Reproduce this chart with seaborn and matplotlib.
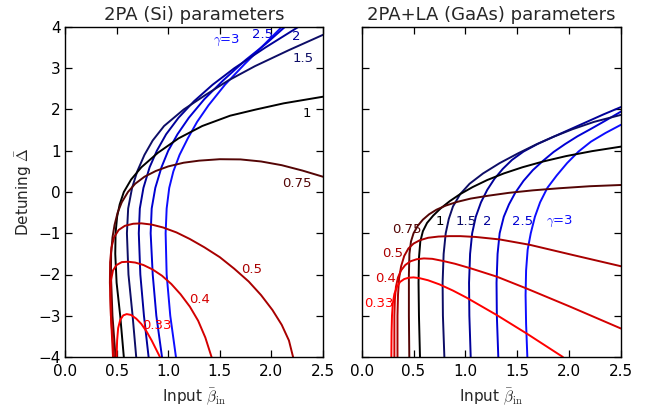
import matplotlib
matplotlib.use("Agg")
import matplotlib.pyplot as plt
import seaborn as sns

# ---------------- data: left panel, 2PA (Si) ----------------
si_g3_x = [1.075, 1.02, 0.985, 0.975, 0.985, 1.01, 1.05, 1.11, 1.19, 1.28, 1.39, 1.55, 1.74, 1.94, 2.10]
si_g3_y = [-4, -3, -2, -1, -0.4, 0.1, 0.5, 0.9, 1.3, 1.7, 2.1, 2.6, 3.1, 3.6, 4.0]
si_g25_x = [0.94, 0.885, 0.85, 0.83, 0.84, 0.875, 0.935, 1.0, 1.09, 1.20, 1.35, 1.53, 1.75, 1.95, 2.13]
si_g25_y = [-4, -3, -2, -1, -0.4, 0.1, 0.6, 1.0, 1.4, 1.8, 2.25, 2.7, 3.2, 3.6, 4.0]
si_g2_x = [0.81, 0.765, 0.73, 0.715, 0.725, 0.76, 0.82, 0.89, 0.98, 1.10, 1.25, 1.43, 1.64, 1.94, 2.26]
si_g2_y = [-4, -3, -2, -1, -0.4, 0.1, 0.6, 1.0, 1.4, 1.8, 2.2, 2.6, 3.0, 3.5, 4.0]
si_g15_x = [0.69, 0.655, 0.615, 0.60, 0.612, 0.65, 0.70, 0.77, 0.85, 0.96, 1.15, 1.36, 1.58, 1.84, 2.17, 2.50]
si_g15_y = [-4, -3, -2, -1, -0.4, 0.1, 0.5, 0.9, 1.25, 1.6, 2.0, 2.35, 2.7, 3.05, 3.44, 3.81]
si_g1_x = [0.57, 0.535, 0.50, 0.487, 0.49, 0.505, 0.53, 0.57, 0.64, 0.74, 0.90, 1.10, 1.33, 1.60, 1.85, 2.12, 2.50]
si_g1_y = [-4, -3, -2.2, -1.5, -1.0, -0.6, -0.3, 0.0, 0.3, 0.6, 0.95, 1.3, 1.6, 1.85, 2.0, 2.15, 2.31]
si_g075_x = [0.49, 0.46, 0.445, 0.447, 0.46, 0.48, 0.51, 0.55, 0.61, 0.68, 0.77, 0.88, 1.0, 1.15,
             1.3, 1.5, 1.7, 1.9, 2.1, 2.3, 2.5]
si_g075_y = [-4, -3, -2, -1.5, -1.1, -0.8, -0.5, -0.25, 0.0, 0.2, 0.37, 0.51, 0.62, 0.71,
             0.76, 0.795, 0.79, 0.74, 0.65, 0.52, 0.37]
si_g05_x = [0.475, 0.445, 0.435, 0.437, 0.45, 0.475, 0.52, 0.58, 0.66, 0.74, 0.84, 0.95, 1.08, 1.21,
            1.35, 1.50, 1.64, 1.78, 1.90, 2.01, 2.10, 2.17, 2.21]
si_g05_y = [-4, -3, -2.2, -1.7, -1.35, -1.1, -0.92, -0.82, -0.77, -0.76, -0.79, -0.86, -0.98, -1.14,
            -1.34, -1.58, -1.86, -2.17, -2.5, -2.86, -3.22, -3.6, -4.0]
si_g04_x = [0.465, 0.445, 0.44, 0.445, 0.465, 0.50, 0.55, 0.61, 0.68, 0.76, 0.85, 0.94, 1.03, 1.12,
            1.21, 1.29, 1.36, 1.42]
si_g04_y = [-4, -3, -2.5, -2.15, -1.9, -1.77, -1.70, -1.69, -1.71, -1.77, -1.88, -2.03, -2.23, -2.48,
            -2.78, -3.12, -3.53, -4.0]
si_g033_x = [0.50, 0.505, 0.515, 0.535, 0.565, 0.598, 0.64, 0.69, 0.74, 0.79, 0.84, 0.88, 0.92]
si_g033_y = [-4, -3.6, -3.3, -3.1, -2.99, -2.96, -2.98, -3.07, -3.2, -3.38, -3.6, -3.8, -4.0]

# ---------------- data: right panel, 2PA+LA (GaAs) ----------------
ga_g3_x = [1.597, 1.585, 1.58, 1.585, 1.60, 1.63, 1.67, 1.72, 1.79, 1.88, 1.98, 2.09, 2.21, 2.35, 2.50]
ga_g3_y = [-4, -3.2, -2.5, -1.9, -1.4, -1.0, -0.6, -0.25, 0.1, 0.4, 0.7, 0.98, 1.22, 1.43, 1.63]
ga_g25_x = [1.317, 1.303, 1.30, 1.31, 1.33, 1.37, 1.42, 1.48, 1.56, 1.65, 1.75, 1.85, 1.96, 2.08,
            2.21, 2.35, 2.50]
ga_g25_y = [-4, -3, -2.2, -1.5, -1.0, -0.6, -0.3, -0.02, 0.27, 0.53, 0.76, 0.97, 1.16, 1.35,
            1.53, 1.73, 1.95]
ga_g2_x = [1.051, 1.038, 1.035, 1.045, 1.065, 1.10, 1.15, 1.21, 1.28, 1.36, 1.45, 1.56, 1.70, 1.85,
           2.01, 2.17, 2.33, 2.50]
ga_g2_y = [-4, -3, -2.2, -1.5, -1.0, -0.6, -0.25, 0.05, 0.32, 0.56, 0.78, 0.98, 1.17, 1.34,
           1.52, 1.70, 1.88, 2.06]
ga_g15_x = [0.797, 0.783, 0.78, 0.79, 0.81, 0.84, 0.88, 0.95, 1.04, 1.17, 1.33, 1.51, 1.68, 1.85,
            2.03, 2.24, 2.50]
ga_g15_y = [-4, -3, -2.2, -1.5, -1.0, -0.65, -0.35, -0.05, 0.2, 0.45, 0.7, 0.94, 1.15, 1.34,
            1.52, 1.70, 1.87]
ga_g1_x = [0.562, 0.552, 0.548, 0.552, 0.565, 0.59, 0.63, 0.69, 0.76, 0.85, 0.95, 1.07, 1.21, 1.37,
           1.55, 1.75, 1.97, 2.22, 2.50]
ga_g1_y = [-4, -3, -2.2, -1.6, -1.2, -0.95, -0.75, -0.57, -0.4, -0.22, -0.05, 0.12, 0.29, 0.45,
           0.6, 0.74, 0.87, 0.99, 1.10]
ga_g075_x = [0.459, 0.455, 0.455, 0.46, 0.475, 0.50, 0.54, 0.59, 0.65, 0.72, 0.81, 0.92, 1.05, 1.22,
             1.42, 1.65, 1.90, 2.2, 2.5]
ga_g075_y = [-4, -3, -2, -1.5, -1.2, -1.0, -0.82, -0.67, -0.54, -0.43, -0.33, -0.24, -0.16, -0.09,
             -0.02, 0.04, 0.09, 0.14, 0.17]
ga_g05_x = [0.345, 0.345, 0.35, 0.36, 0.38, 0.41, 0.45, 0.50, 0.56, 0.64, 0.74, 0.85, 0.95, 1.10,
            1.33, 1.62, 2.04, 2.50]
ga_g05_y = [-4, -3, -2.5, -2.1, -1.8, -1.55, -1.37, -1.25, -1.17, -1.11, -1.08, -1.07, -1.07, -1.09,
            -1.15, -1.28, -1.53, -1.80]
ga_g04_x = [0.315, 0.315, 0.32, 0.33, 0.35, 0.38, 0.42, 0.47, 0.53, 0.60, 0.68, 0.78, 0.90, 1.05,
            1.30, 1.59, 2.01, 2.50]
ga_g04_y = [-4, -3, -2.6, -2.3, -2.07, -1.9, -1.77, -1.68, -1.63, -1.61, -1.62, -1.67, -1.74, -1.85,
            -2.05, -2.34, -2.78, -3.31]
ga_g033_x = [0.286, 0.288, 0.292, 0.30, 0.315, 0.34, 0.37, 0.41, 0.45, 0.50, 0.56, 0.64, 0.75, 0.88,
             1.01, 1.30, 1.59, 1.94]
ga_g033_y = [-4, -3.4, -3.0, -2.7, -2.47, -2.3, -2.18, -2.11, -2.08, -2.07, -2.09, -2.14, -2.24, -2.39,
             -2.56, -2.98, -3.43, -4.0]

# ---------------- labels ----------------
label_texts = [r"$\gamma$=3", "2.5", "2", "1.5", "1", "0.75", "0.5", "0.4", "0.33"]
si_label_x = [1.57, 1.91, 2.24, 2.31, 2.345, 2.245, 1.81, 1.305, 0.895]
si_label_y = [3.67, 3.81, 3.77, 3.24, 1.91, 0.21, -1.89, -2.60, -3.24]
ga_label_x = [1.91, 1.55, 1.21, 1.004, 0.755, 0.433, 0.297, 0.23, 0.169]
ga_label_y = [-0.72, -0.72, -0.72, -0.72, -0.72, -0.91, -1.50, -2.10, -2.71]

titles = ["2PA (Si) parameters", "2PA+LA (GaAs) parameters"]
x_ticks = [0.0, 0.5, 1.0, 1.5, 2.0, 2.5]
y_ticks = [-4, -3, -2, -1, 0, 1, 2, 3, 4]

# style: colours per gamma (red -> black -> blue)
colors = [(0.05, 0.05, 1.0), (0.0, 0.0, 0.83), (0.0, 0.0, 0.6), (0.05, 0.05, 0.4), (0, 0, 0),
          (0.33, 0.02, 0.02), (0.66, 0.0, 0.0), (0.83, 0.0, 0.0), (1.0, 0.0, 0.0)]

si_curves = [(si_g3_x, si_g3_y), (si_g25_x, si_g25_y), (si_g2_x, si_g2_y),
             (si_g15_x, si_g15_y), (si_g1_x, si_g1_y), (si_g075_x, si_g075_y),
             (si_g05_x, si_g05_y), (si_g04_x, si_g04_y), (si_g033_x, si_g033_y)]
ga_curves = [(ga_g3_x, ga_g3_y), (ga_g25_x, ga_g25_y), (ga_g2_x, ga_g2_y),
             (ga_g15_x, ga_g15_y), (ga_g1_x, ga_g1_y), (ga_g075_x, ga_g075_y),
             (ga_g05_x, ga_g05_y), (ga_g04_x, ga_g04_y), (ga_g033_x, ga_g033_y)]

sns.set_style("ticks")
plt.rcParams["font.family"] = ["DejaVu Sans"]
plt.rcParams["mathtext.fontset"] = "cm"
plt.rcParams["axes.unicode_minus"] = True

fig = plt.figure(figsize=(6.54, 4.09), dpi=100)
ax1 = fig.add_axes([65 / 654, 52 / 409, 258 / 654, 330 / 409])
ax2 = fig.add_axes([361.7 / 654, 52 / 409, 259.3 / 654, 330 / 409])

for ax, curves, lx, ly, title in [(ax1, si_curves, si_label_x, si_label_y, titles[0]),
                                  (ax2, ga_curves, ga_label_x, ga_label_y, titles[1])]:
    for (cx, cy), col in zip(curves, colors):
        sns.lineplot(x=cx, y=cy, sort=False, estimator=None, color=col,
                     linewidth=1.4, ax=ax, legend=False)
    for t, x, y, col in zip(label_texts, lx, ly, colors):
        ax.text(x, y, t, color=col, fontsize=9.5, ha="center", va="center")
    ax.set_xlim(0, 2.5)
    ax.set_ylim(-4, 4)
    ax.set_xticks(x_ticks)
    ax.set_xticklabels([f"{v:.1f}" for v in x_ticks])
    ax.set_yticks(y_ticks)
    ax.tick_params(direction="in", top=True, right=True, length=5, width=0.9,
                   labelsize=11, colors="black")
    ax.tick_params(axis="x", pad=5)
    ax.tick_params(axis="y", pad=3)
    for s in ax.spines.values():
        s.set_linewidth(1.0)
        s.set_color("black")
        s.set_visible(True)
    ax.set_title(title, fontsize=13, pad=5)
    ax.set_xlabel(r"Input $\bar{\beta}_{\rm in}$", fontsize=11, labelpad=5)

ax1.set_yticklabels([f"{v}".replace("-", "\u2212") for v in y_ticks])
ax1.set_ylabel(r"Detuning $\bar{\Delta}$", fontsize=11, labelpad=3)
ax2.set_yticklabels([])
ax2.set_ylabel("")

fig.savefig("out.png", dpi=100, facecolor="white")
